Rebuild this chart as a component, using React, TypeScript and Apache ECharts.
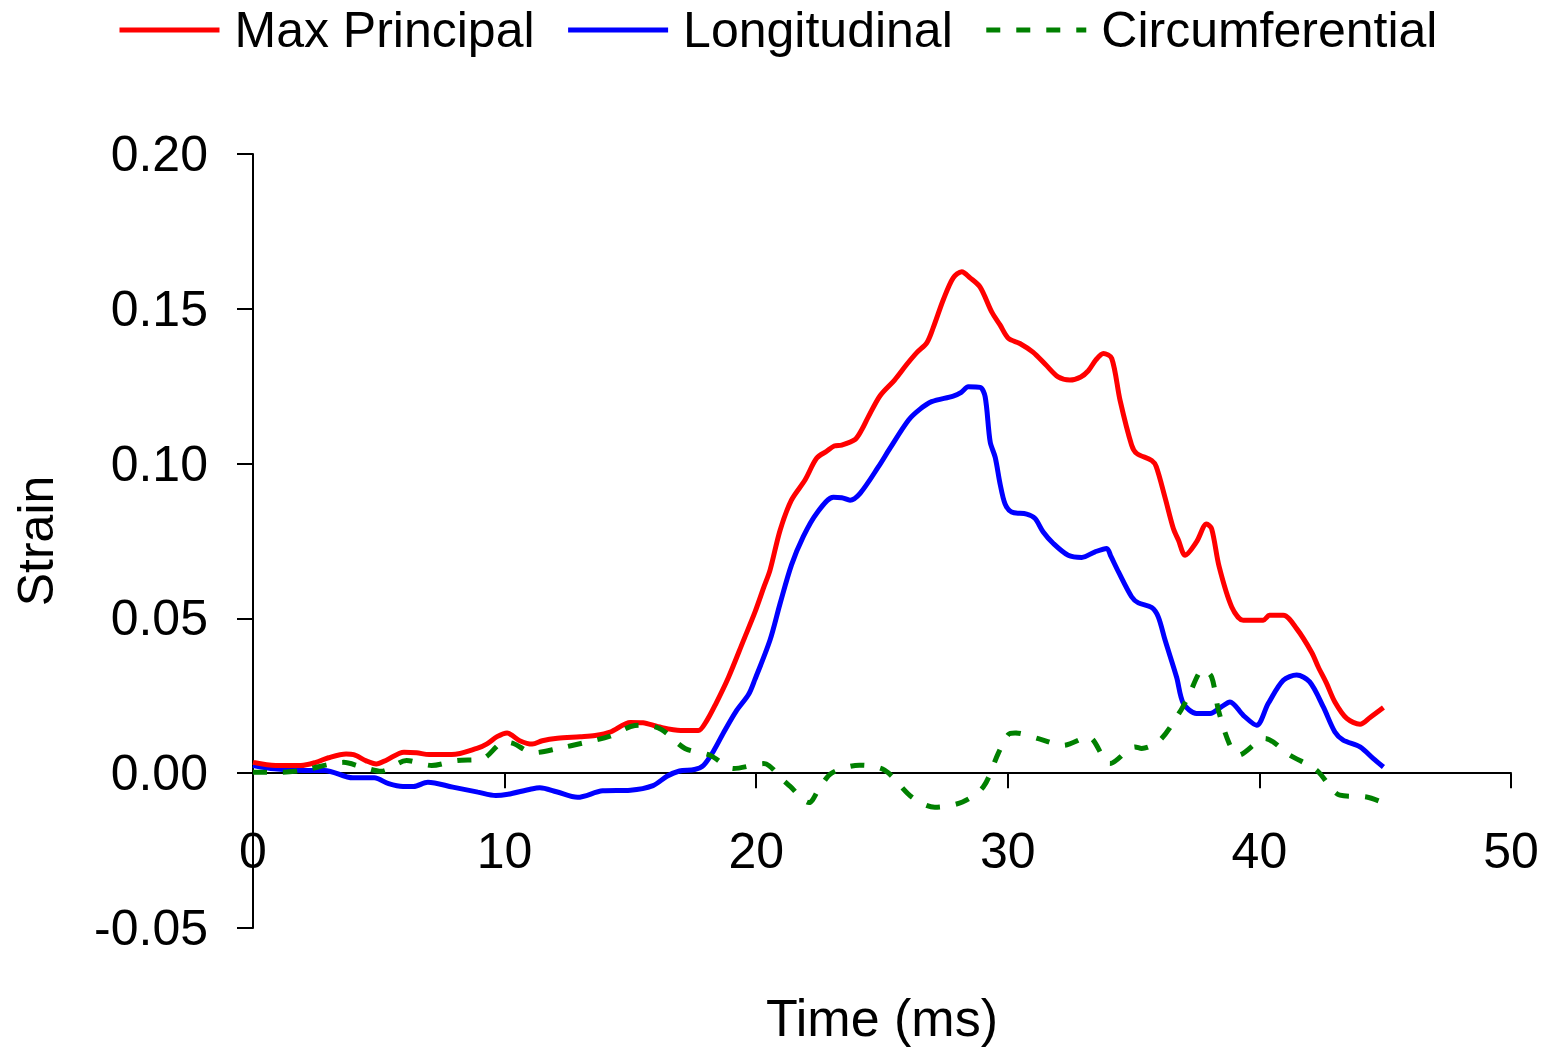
import React, { useEffect, useRef } from "react";
import * as echarts from "echarts";

const seriesNames = ["Max Principal", "Longitudinal", "Circumferential"];

const xTicks = { min: 0, max: 50, interval: 10 };
const yTicks = { min: -0.05, max: 0.2, interval: 0.05 };

const maxPrincipal: [number, number][] = [
  [0, 0.0035], [0.9, 0.0025], [1.9, 0.0025], [2.5, 0.0035], [3.0, 0.005], [3.7, 0.0062], [4.0, 0.006],
  [4.5, 0.004], [4.9, 0.003], [5.3, 0.0042], [6.0, 0.0068], [6.5, 0.0066], [7.0, 0.006], [7.9, 0.006],
  [8.9, 0.008], [9.3, 0.0095], [9.7, 0.0118], [10.1, 0.013], [10.3, 0.0122], [10.6, 0.0105], [11.1, 0.0094],
  [11.5, 0.0105], [12.1, 0.0113], [13.0, 0.0118], [13.6, 0.0122], [14.2, 0.0133], [15.0, 0.0164], [15.5, 0.0163],
  [16.1, 0.015], [17.0, 0.0138], [17.7, 0.0138], [18.0, 0.0165], [18.4, 0.0225], [18.9, 0.031], [19.5, 0.043],
  [19.95, 0.052], [20.3, 0.06], [20.55, 0.0656], [20.95, 0.0785], [21.4, 0.0882], [21.94, 0.0947], [22.4, 0.1017],
  [22.8, 0.104], [23.1, 0.1057], [23.4, 0.106], [23.93, 0.1078], [24.2, 0.111], [24.45, 0.115], [24.93, 0.122],
  [25.5, 0.127], [25.98, 0.132], [26.4, 0.136], [26.78, 0.139], [27.04, 0.144], [27.44, 0.153], [27.83, 0.16],
  [28.17, 0.162], [28.5, 0.16], [28.9, 0.157], [29.36, 0.149], [29.69, 0.1448], [30.02, 0.1405], [30.48, 0.1388],
  [31.0, 0.136], [31.5, 0.132], [32.0, 0.128], [32.47, 0.127], [32.9, 0.128], [33.2, 0.13], [33.5, 0.1335],
  [33.8, 0.1356], [34.13, 0.134], [34.46, 0.1205], [34.92, 0.106], [35.12, 0.1033], [35.72, 0.101], [35.9, 0.099],
  [36.25, 0.089], [36.58, 0.079], [36.78, 0.0753], [37.05, 0.0704], [37.5, 0.0747], [37.9, 0.0805], [38.1, 0.079],
  [38.4, 0.0667], [38.9, 0.0537], [39.36, 0.0494], [40.15, 0.0494], [40.4, 0.051], [40.95, 0.051], [41.48, 0.0467],
  [42.08, 0.039], [42.34, 0.0343], [42.67, 0.029], [43.0, 0.023], [43.47, 0.0177], [44.0, 0.0158], [44.4, 0.018],
  [44.93, 0.0212],
];

const longitudinal: [number, number][] = [
  [0, 0.0025], [0.85, 0.0014], [2.0, 0.0009], [2.85, 0.0009], [3.97, -0.0015], [4.82, -0.0015], [5.39, -0.0034],
  [5.96, -0.0043], [6.38, -0.0043], [6.95, -0.0029], [7.94, -0.0045], [8.94, -0.0061], [9.65, -0.0072],
  [10.07, -0.0069], [11.06, -0.0051], [11.4, -0.0047], [12.06, -0.006], [12.9, -0.0078], [13.9, -0.0057],
  [15.0, -0.0055], [15.9, -0.004], [16.45, -0.001], [16.95, 0.0007], [17.55, 0.0012], [17.9, 0.0025],
  [18.3, 0.0071], [18.75, 0.0138], [19.2, 0.02], [19.7, 0.0255], [19.95, 0.0303], [20.55, 0.043], [20.95, 0.0548],
  [21.4, 0.0672], [21.87, 0.0764], [22.4, 0.0839], [23.07, 0.0891], [23.4, 0.089], [23.73, 0.0882], [24.13, 0.0904],
  [24.86, 0.099], [25.32, 0.105], [26.05, 0.114], [26.5, 0.1175], [26.97, 0.12], [27.83, 0.1218], [28.15, 0.123],
  [28.43, 0.1248], [28.9, 0.1246], [29.1, 0.1216], [29.3, 0.107], [29.5, 0.102], [29.69, 0.0936], [29.89, 0.087],
  [30.15, 0.0844], [30.75, 0.0837], [31.08, 0.0823], [31.4, 0.078], [31.81, 0.0742], [32.4, 0.0704],
  [32.94, 0.0697], [33.47, 0.0715], [33.93, 0.0726], [34.1, 0.07], [34.4, 0.065], [34.92, 0.057], [35.19, 0.055],
  [35.72, 0.0535], [35.98, 0.0505], [36.25, 0.043], [36.71, 0.031], [36.98, 0.0225], [37.5, 0.0193],
  [38.04, 0.0193], [38.5, 0.0215], [38.83, 0.023], [39.36, 0.0187], [39.89, 0.0155], [40.35, 0.0225],
  [40.95, 0.03], [41.48, 0.0317], [42.0, 0.0295], [42.54, 0.0214], [43.0, 0.0133], [43.33, 0.0107], [44.0, 0.0085],
  [44.53, 0.0047], [44.93, 0.002],
];

const circumferential: [number, number][] = [
  [0, 0.0003], [1.1, 0.0003], [2.0, 0.001], [3.1, 0.003], [3.6, 0.0035], [4.3, 0.0021], [5.1, 0.0006],
  [6.1, 0.0041], [7.1, 0.0025], [8.1, 0.0041], [9.1, 0.0046], [10.0, 0.0101], [10.35, 0.0096], [11.14, 0.0066],
  [12.14, 0.008], [13.13, 0.0098], [14.19, 0.012], [15.18, 0.0154], [15.6, 0.0155], [16.24, 0.0141],
  [17.17, 0.008], [18.16, 0.0058], [19.1, 0.0015], [20.3, 0.0031], [21.08, -0.0023], [21.34, -0.0042],
  [22.1, -0.0095], [22.5, -0.005], [23.0, 0.0], [24.1, 0.0026], [25.1, 0.001], [26.2, -0.0078], [27.1, -0.011],
  [28.2, -0.0093], [29.03, -0.0044], [29.62, 0.0064], [30.02, 0.0125], [30.29, 0.013], [31.28, 0.011],
  [32.21, 0.009], [33.2, 0.0117], [34.06, 0.0031], [35.06, 0.0085], [35.32, 0.008], [36.05, 0.0107],
  [36.84, 0.0198], [37.17, 0.0247], [37.77, 0.0335], [38.1, 0.0311], [38.37, 0.0204], [38.8, 0.0096],
  [39.16, 0.0058], [40.22, 0.0112], [41.21, 0.0058], [42.27, 0.001], [43.2, -0.0071], [44.26, -0.0077],
  [44.9, -0.0095],
];

const FONT = "'Liberation Sans', Arial, sans-serif";

export default function App() {
  const ref = useRef<HTMLDivElement>(null);
  useEffect(() => {
    if (!ref.current) return;
    const chart = echarts.init(ref.current, null, { renderer: "svg" });
    chart.setOption({
      animation: false,
      backgroundColor: "#fff",
      textStyle: { fontFamily: FONT, color: "#000" },
      legend: {
        left: 117,
        top: 5,
        padding: 0,
        itemWidth: 100,
        itemHeight: 20,
        itemGap: 31,
        itemStyle: { opacity: 0 },
        lineStyle: { width: 5 },
        textStyle: { fontSize: 50, fontFamily: FONT, color: "#000", padding: [0, 0, 0, 10] },
        data: seriesNames,
      },
      grid: { left: 253, right: 38, top: 154, bottom: 119, containLabel: false, outerBoundsMode: "none" },
      xAxis: {
        type: "value",
        min: xTicks.min,
        max: xTicks.max,
        interval: xTicks.interval,
        name: "Time (ms)",
        nameLocation: "middle",
        nameGap: 64,
        nameMoveOverlap: false,
        nameTextStyle: { fontSize: 52, fontFamily: FONT, color: "#000" },
        axisLine: { onZero: true, lineStyle: { color: "#000", width: 2 } },
        axisTick: { show: true, length: 15, lineStyle: { color: "#000", width: 2 } },
        axisLabel: { fontSize: 50, fontFamily: FONT, color: "#000", margin: -102 },
        splitLine: { show: false },
      },
      yAxis: {
        type: "value",
        min: yTicks.min,
        max: yTicks.max,
        interval: yTicks.interval,
        name: "Strain",
        nameLocation: "middle",
        nameGap: 192,
        nameTextStyle: { fontSize: 50, fontFamily: FONT, color: "#000" },
        axisLine: { show: true, onZero: false, lineStyle: { color: "#000", width: 2 } },
        axisTick: { show: true, length: 16, lineStyle: { color: "#000", width: 2 } },
        axisLabel: {
          fontSize: 50,
          fontFamily: FONT,
          color: "#000",
          margin: 45,
          formatter: (v: number) => v.toFixed(2),
        },
        splitLine: { show: false },
      },
      series: [
        {
          name: seriesNames[0],
          type: "line",
          data: maxPrincipal,
          showSymbol: false,
          symbol: "none",
          smooth: 0.3,
          lineStyle: { color: "#ff0000", width: 5 },
          itemStyle: { color: "#ff0000" },
          z: 3,
        },
        {
          name: seriesNames[1],
          type: "line",
          data: longitudinal,
          showSymbol: false,
          symbol: "none",
          smooth: 0.3,
          lineStyle: { color: "#0000ff", width: 5 },
          itemStyle: { color: "#0000ff" },
          z: 2,
        },
        {
          name: seriesNames[2],
          type: "line",
          data: circumferential,
          showSymbol: false,
          symbol: "none",
          smooth: 0.3,
          lineStyle: { color: "#008000", width: 5, type: [14, 16] },
          itemStyle: { color: "#008000" },
          z: 4,
        },
      ],
    });
    return () => chart.dispose();
  }, []);
  return (
    <div
      ref={ref}
      style={{ position: "fixed", left: 0, top: 0, width: 1549, height: 1047, background: "#fff" }}
    />
  );
}
